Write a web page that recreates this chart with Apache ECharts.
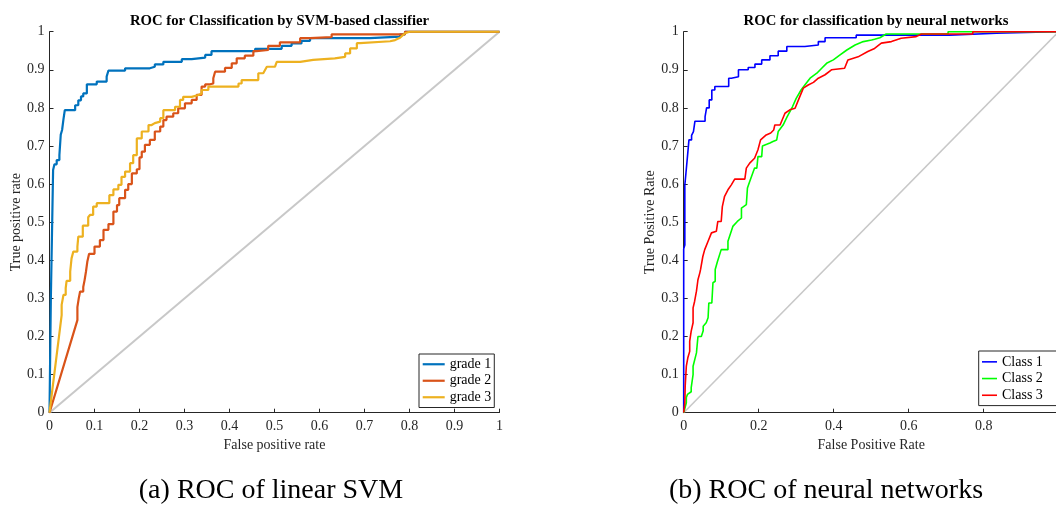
<!DOCTYPE html>
<html>
<head>
<meta charset="utf-8">
<script src="https://cdn.jsdelivr.net/npm/echarts@6/dist/echarts.min.js"></script>
<style>
  html, body { margin: 0; padding: 0; background: #fff; }
  #chart { width: 1056px; height: 517px; }
</style>
</head>
<body>
<div id="chart"></div>
<script>
// ROC curves as [false positive rate, true positive rate] vertices.

// (a) linear SVM
const svmNames = ['grade 1', 'grade 2', 'grade 3'];
const svmColors = ['#0072BD', '#D95319', '#EDB120'];

const grade1 = [[0,0],[0.003,0.3],[0.008,0.637],[0.011,0.637],[0.011,0.652],[0.016,0.652],[0.016,0.663],[0.022,0.663],[0.022,0.676],[0.025,0.676],[0.025,0.73],[0.028,0.73],[0.028,0.742],[0.031,0.742],[0.031,0.77],[0.034,0.77],[0.034,0.794],[0.057,0.794],[0.057,0.807],[0.064,0.807],[0.064,0.82],[0.07,0.82],[0.07,0.83],[0.075,0.83],[0.075,0.838],[0.083,0.838],[0.083,0.862],[0.105,0.862],[0.105,0.869],[0.127,0.869],[0.127,0.882],[0.131,0.882],[0.131,0.898],[0.168,0.898],[0.168,0.904],[0.223,0.904],[0.223,0.908],[0.234,0.908],[0.234,0.914],[0.253,0.914],[0.253,0.921],[0.294,0.921],[0.294,0.928],[0.316,0.928],[0.316,0.932],[0.346,0.932],[0.346,0.939],[0.36,0.939],[0.36,0.949],[0.457,0.949],[0.457,0.955],[0.516,0.955],[0.516,0.963],[0.538,0.963],[0.538,0.969],[0.56,0.969],[0.56,0.976],[0.579,0.976],[0.579,0.983],[0.712,0.983],[0.712,0.987],[0.779,0.987],[0.779,0.993],[0.79,0.993],[0.79,1],[1,1]];

const grade2 = [[0,0],[0.062,0.243],[0.062,0.277],[0.065,0.277],[0.065,0.3],[0.068,0.3],[0.068,0.318],[0.075,0.318],[0.075,0.33],[0.078,0.33],[0.078,0.348],[0.081,0.348],[0.081,0.37],[0.084,0.37],[0.084,0.396],[0.088,0.396],[0.088,0.417],[0.1,0.417],[0.1,0.436],[0.112,0.436],[0.112,0.453],[0.12,0.453],[0.12,0.48],[0.131,0.48],[0.131,0.495],[0.142,0.495],[0.142,0.528],[0.15,0.528],[0.15,0.545],[0.155,0.545],[0.155,0.563],[0.168,0.563],[0.168,0.585],[0.175,0.585],[0.175,0.6],[0.183,0.6],[0.183,0.628],[0.194,0.628],[0.194,0.639],[0.2,0.639],[0.2,0.67],[0.205,0.67],[0.205,0.685],[0.212,0.685],[0.212,0.703],[0.223,0.703],[0.223,0.716],[0.234,0.716],[0.234,0.738],[0.246,0.738],[0.246,0.751],[0.253,0.751],[0.253,0.768],[0.26,0.768],[0.26,0.777],[0.275,0.777],[0.275,0.786],[0.286,0.786],[0.286,0.799],[0.301,0.799],[0.301,0.812],[0.316,0.812],[0.316,0.821],[0.327,0.821],[0.327,0.834],[0.338,0.834],[0.338,0.856],[0.346,0.856],[0.346,0.862],[0.357,0.862],[0.357,0.864],[0.364,0.864],[0.364,0.878],[0.368,0.878],[0.368,0.895],[0.39,0.895],[0.39,0.905],[0.405,0.905],[0.405,0.917],[0.416,0.917],[0.416,0.93],[0.434,0.93],[0.434,0.937],[0.453,0.937],[0.453,0.949],[0.46,0.949],[0.46,0.952],[0.486,0.952],[0.486,0.963],[0.512,0.963],[0.512,0.972],[0.557,0.972],[0.557,0.983],[0.579,0.983],[0.579,0.986],[0.627,0.986],[0.627,0.993],[0.79,0.993],[0.79,1],[1,1]];

const grade3 = [[0,0],[0.027,0.256],[0.027,0.283],[0.031,0.283],[0.031,0.309],[0.036,0.309],[0.036,0.327],[0.038,0.327],[0.038,0.346],[0.046,0.346],[0.046,0.37],[0.049,0.37],[0.049,0.405],[0.053,0.405],[0.053,0.423],[0.062,0.423],[0.062,0.436],[0.064,0.436],[0.064,0.462],[0.074,0.462],[0.074,0.491],[0.086,0.491],[0.086,0.513],[0.09,0.513],[0.09,0.519],[0.097,0.519],[0.097,0.541],[0.105,0.541],[0.105,0.55],[0.133,0.55],[0.133,0.571],[0.142,0.571],[0.142,0.586],[0.153,0.586],[0.153,0.598],[0.16,0.598],[0.16,0.619],[0.168,0.619],[0.168,0.633],[0.179,0.633],[0.179,0.655],[0.186,0.655],[0.186,0.676],[0.194,0.676],[0.194,0.72],[0.205,0.72],[0.205,0.738],[0.22,0.738],[0.22,0.755],[0.227,0.755],[0.227,0.76],[0.234,0.76],[0.234,0.764],[0.246,0.764],[0.246,0.773],[0.253,0.773],[0.253,0.794],[0.279,0.794],[0.279,0.803],[0.29,0.803],[0.29,0.821],[0.297,0.821],[0.297,0.829],[0.316,0.829],[0.316,0.834],[0.331,0.834],[0.331,0.838],[0.338,0.838],[0.338,0.847],[0.353,0.847],[0.353,0.856],[0.42,0.856],[0.42,0.864],[0.427,0.864],[0.427,0.873],[0.464,0.873],[0.464,0.891],[0.475,0.891],[0.483,0.908],[0.501,0.908],[0.501,0.913],[0.505,0.913],[0.505,0.921],[0.557,0.921],[0.557,0.926],[0.586,0.926],[0.586,0.93],[0.634,0.93],[0.634,0.934],[0.657,0.934],[0.657,0.943],[0.668,0.943],[0.668,0.956],[0.683,0.956],[0.683,0.97],[0.69,0.97],[0.69,0.975],[0.757,0.975],[0.768,0.978],[0.779,0.984],[0.79,0.996],[0.8,1],[1,1]];

// (b) neural networks
const nnNames = ['Class 1', 'Class 2', 'Class 3'];
const nnColors = ['#0000FF', '#00FF00', '#FF0000'];

const class1 = [[0,0],[0,0.43],[0.003,0.44],[0.003,0.598],[0.006,0.6],[0.006,0.629],[0.01,0.629],[0.01,0.672],[0.014,0.672],[0.014,0.716],[0.021,0.716],[0.021,0.728],[0.026,0.728],[0.026,0.738],[0.03,0.738],[0.03,0.765],[0.057,0.765],[0.057,0.777],[0.061,0.777],[0.061,0.8],[0.068,0.8],[0.068,0.821],[0.075,0.821],[0.075,0.847],[0.083,0.847],[0.083,0.856],[0.12,0.856],[0.12,0.878],[0.127,0.878],[0.127,0.882],[0.146,0.882],[0.146,0.9],[0.172,0.9],[0.172,0.906],[0.19,0.906],[0.19,0.915],[0.208,0.915],[0.208,0.926],[0.23,0.926],[0.23,0.937],[0.252,0.937],[0.252,0.949],[0.275,0.949],[0.275,0.961],[0.323,0.961],[0.323,0.965],[0.359,0.965],[0.359,0.974],[0.377,0.974],[0.377,0.984],[0.46,0.984],[0.46,0.991],[0.709,0.991],[0.709,0.996],[0.834,0.996],[0.834,1],[1,1]];

const class2 = [[0,0],[0.007,0.026],[0.007,0.04],[0.01,0.048],[0.02,0.055],[0.02,0.066],[0.025,0.1],[0.025,0.122],[0.034,0.157],[0.038,0.16],[0.038,0.2],[0.047,0.2],[0.047,0.205],[0.052,0.215],[0.052,0.227],[0.06,0.236],[0.065,0.249],[0.067,0.288],[0.075,0.288],[0.078,0.341],[0.084,0.345],[0.084,0.376],[0.09,0.397],[0.1,0.428],[0.118,0.428],[0.118,0.45],[0.131,0.489],[0.143,0.502],[0.154,0.511],[0.154,0.537],[0.167,0.546],[0.17,0.59],[0.176,0.607],[0.189,0.642],[0.195,0.642],[0.198,0.672],[0.208,0.672],[0.21,0.7],[0.223,0.705],[0.23,0.708],[0.238,0.712],[0.248,0.716],[0.252,0.738],[0.257,0.738],[0.265,0.755],[0.27,0.755],[0.276,0.777],[0.279,0.777],[0.29,0.803],[0.292,0.803],[0.3,0.825],[0.301,0.825],[0.313,0.847],[0.315,0.847],[0.323,0.86],[0.337,0.878],[0.355,0.891],[0.368,0.904],[0.381,0.917],[0.399,0.926],[0.417,0.939],[0.435,0.952],[0.457,0.965],[0.479,0.974],[0.501,0.978],[0.509,0.98],[0.523,0.984],[0.54,0.994],[0.705,0.994],[0.705,1],[1,1]];

const class3 = [[0,0],[0.003,0.026],[0.004,0.07],[0.007,0.122],[0.011,0.126],[0.011,0.144],[0.016,0.161],[0.016,0.188],[0.02,0.214],[0.025,0.236],[0.025,0.275],[0.029,0.292],[0.034,0.319],[0.038,0.349],[0.043,0.367],[0.045,0.376],[0.051,0.41],[0.056,0.428],[0.065,0.45],[0.074,0.472],[0.087,0.476],[0.091,0.502],[0.1,0.502],[0.103,0.541],[0.109,0.568],[0.118,0.585],[0.127,0.598],[0.136,0.613],[0.163,0.613],[0.167,0.642],[0.176,0.655],[0.189,0.668],[0.198,0.69],[0.205,0.716],[0.22,0.729],[0.232,0.734],[0.24,0.742],[0.243,0.755],[0.257,0.755],[0.27,0.786],[0.283,0.795],[0.297,0.799],[0.306,0.821],[0.319,0.852],[0.332,0.86],[0.346,0.867],[0.359,0.878],[0.377,0.887],[0.394,0.9],[0.429,0.904],[0.438,0.926],[0.465,0.934],[0.491,0.948],[0.509,0.956],[0.527,0.97],[0.554,0.974],[0.58,0.983],[0.62,0.987],[0.634,0.994],[0.771,0.994],[0.771,1],[1,1]];

// chance line
const chance = [[0,0],[1,1]];

const FONT = 'Liberation Serif';
const INK = '#262626';

function axisCommon(interval) {
  return {
    type: 'value', min: 0, max: 1, interval: interval,
    nameLocation: 'middle',
    nameTextStyle: { fontFamily: FONT, fontSize: 14, color: INK },
    axisLine: { show: true, onZero: false, lineStyle: { color: INK, width: 1 } },
    axisTick: { show: true, inside: true, length: 4, lineStyle: { color: INK } },
    axisLabel: { fontFamily: FONT, fontSize: 14, color: INK },
    splitLine: { show: false }
  };
}

function lineSeries(name, data, color, width, idx) {
  return {
    name: name, type: 'line', data: data,
    xAxisIndex: idx, yAxisIndex: idx,
    symbol: 'none', showSymbol: false,
    lineStyle: { color: color, width: width },
    itemStyle: { color: color },
    emphasis: { disabled: true },
    animation: false
  };
}

const option = {
  backgroundColor: '#fff',
  animation: false,
  title: [
    { text: 'ROC for Classification by SVM-based classifier', left: 274.5, top: 9, textAlign: 'center',
      textStyle: { fontFamily: FONT, fontSize: 14.7, fontWeight: 'bold', color: '#000' } },
    { text: 'ROC for classification by neural networks', left: 871, top: 9, textAlign: 'center',
      textStyle: { fontFamily: FONT, fontSize: 14.7, fontWeight: 'bold', color: '#000' } },
    { text: '(a) ROC of linear SVM', left: 266, top: 472, textAlign: 'center',
      textStyle: { fontFamily: FONT, fontSize: 28, fontWeight: 'normal', color: '#000' } },
    { text: '(b) ROC of neural networks', left: 821, top: 472, textAlign: 'center',
      textStyle: { fontFamily: FONT, fontSize: 28, fontWeight: 'normal', color: '#000' } }
  ],
  grid: [
    { left: 49.5, top: 31.7, width: 450, height: 381, containLabel: false, outerBoundsMode: 'none' },
    { left: 683.7, top: 31.7, width: 375, height: 381, containLabel: false, outerBoundsMode: 'none' }
  ],
  xAxis: [
    Object.assign(axisCommon(0.1), { gridIndex: 0, name: 'False positive rate', nameGap: 18,
      axisLabel: { fontFamily: FONT, fontSize: 14, color: INK, margin: 7 } }),
    Object.assign(axisCommon(0.2), { gridIndex: 1, name: 'False Positive Rate', nameGap: 18,
      axisLabel: { fontFamily: FONT, fontSize: 14, color: INK, margin: 7 } })
  ],
  yAxis: [
    Object.assign(axisCommon(0.1), { gridIndex: 0, name: 'True positive rate', nameGap: 22,
      axisLabel: { fontFamily: FONT, fontSize: 14, color: INK, margin: 5 } }),
    Object.assign(axisCommon(0.1), { gridIndex: 1, name: 'True Positive Rate', nameGap: 24,
      axisLabel: { fontFamily: FONT, fontSize: 14, color: INK, margin: 5 } })
  ],
  legend: [
    { data: svmNames, orient: 'vertical', left: 419, top: 354,
      icon: 'rect', itemWidth: 22, itemHeight: 2.2, itemGap: 2,
      padding: [3, 3, 3, 3.7], borderColor: INK, borderWidth: 1, borderRadius: 0,
      backgroundColor: '#fff', selectedMode: false,
      textStyle: { fontFamily: FONT, fontSize: 14, lineHeight: 14.5, color: '#000' } },
    { data: nnNames, orient: 'vertical', left: 978.7, top: 351,
      icon: 'rect', itemWidth: 15, itemHeight: 1.6, itemGap: 2,
      padding: [3.5, 14, 3, 3.3], borderColor: INK, borderWidth: 1, borderRadius: 0,
      backgroundColor: '#fff', selectedMode: false,
      textStyle: { fontFamily: FONT, fontSize: 14, lineHeight: 14.7, color: '#000' } }
  ],
  series: [
    lineSeries('chance', chance, '#C8C8C8', 2, 0),
    lineSeries(svmNames[0], grade1, svmColors[0], 2.2, 0),
    lineSeries(svmNames[1], grade2, svmColors[1], 2.2, 0),
    lineSeries(svmNames[2], grade3, svmColors[2], 2.2, 0),
    lineSeries('chance ', chance, '#C8C8C8', 1.6, 1),
    lineSeries(nnNames[0], class1, nnColors[0], 1.6, 1),
    lineSeries(nnNames[1], class2, nnColors[1], 1.6, 1),
    lineSeries(nnNames[2], class3, nnColors[2], 1.6, 1)
  ]
};

const chart = echarts.init(document.getElementById('chart'), null, { renderer: 'canvas' });
chart.setOption(option);
</script>
</body>
</html>
